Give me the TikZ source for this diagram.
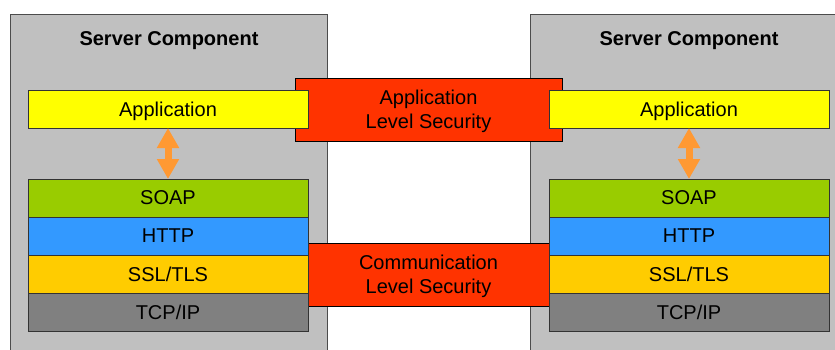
\documentclass[tikz,border=0pt]{standalone}
\usepackage{fontspec}
\setmainfont{Liberation Sans}
\usetikzlibrary{positioning,arrows.meta}

\definecolor{servergray}{HTML}{C0C0C0}
\definecolor{appyellow}{HTML}{FFFF00}
\definecolor{secred}{HTML}{FF3300}
\definecolor{soapgreen}{HTML}{99CC00}
\definecolor{httpblue}{HTML}{3399FF}
\definecolor{sslgold}{HTML}{FFCC00}
\definecolor{tcpgray}{HTML}{808080}
\definecolor{arroworange}{HTML}{FF9933}

\begin{document}
\begin{tikzpicture}
    [x=1pt,y=-1pt,
    every node/.style={inner sep=0pt,outer sep=0pt,text depth=0pt,
        font=\fontsize{20}{24}\selectfont},
    server/.style={draw=black!70,fill=servergray,line width=1pt,
        minimum width=317pt,minimum height=350pt,anchor=north west},
    secbox/.style={draw=black,fill=secred,line width=0.8pt,
        minimum height=63pt,align=center},
    layer/.style={draw=black!80,line width=0.8pt,
        minimum width=280pt,minimum height=38pt},
    updown/.style={arroworange,line width=7pt,
        {Triangle[width=21pt,length=20pt]}-{Triangle[width=21pt,length=20pt]}}]

    \useasboundingbox (0,0) rectangle (835,349);
    \clip (0,0) rectangle (835,349);

    % the two servers
    \node[server] (srvL) at (10,14) {};
    \node[server] (srvR) at (530,14) {};
    \node[font=\fontsize{20}{24}\selectfont\bfseries] (titleL) at (169,38.5) {Server Component};
    \node[font=\fontsize{20}{24}\selectfont\bfseries] (titleR) at (689,38.5) {Server Component};

    % security between them
    \node[secbox,minimum width=267pt] (appsec) at (428.5,109.5) {Application\\Level Security};
    \node[secbox,minimum width=241pt] (commsec) at (428.5,274.5) {Communication\\Level Security};

    % left stack
    \node[layer,fill=appyellow,anchor=north west] (appL) at (28,90) {Application};
    \node[layer,fill=soapgreen,anchor=north west] (soapL) at (28,179) {SOAP};
    \node[layer,fill=httpblue,below=0pt of soapL] (httpL) {HTTP};
    \node[layer,fill=sslgold,below=0pt of httpL] (sslL) {SSL/TLS};
    \node[layer,fill=tcpgray,below=0pt of sslL] (tcpL) {TCP/IP};

    % right stack
    \node[layer,fill=appyellow,anchor=north west] (appR) at (549,90) {Application};
    \node[layer,fill=soapgreen,anchor=north west] (soapR) at (549,179) {SOAP};
    \node[layer,fill=httpblue,below=0pt of soapR] (httpR) {HTTP};
    \node[layer,fill=sslgold,below=0pt of httpR] (sslR) {SSL/TLS};
    \node[layer,fill=tcpgray,below=0pt of sslR] (tcpR) {TCP/IP};

    \draw[updown] (appL.south) -- (soapL.north);
    \draw[updown] (appR.south) -- (soapR.north);

\end{tikzpicture}
\end{document}
